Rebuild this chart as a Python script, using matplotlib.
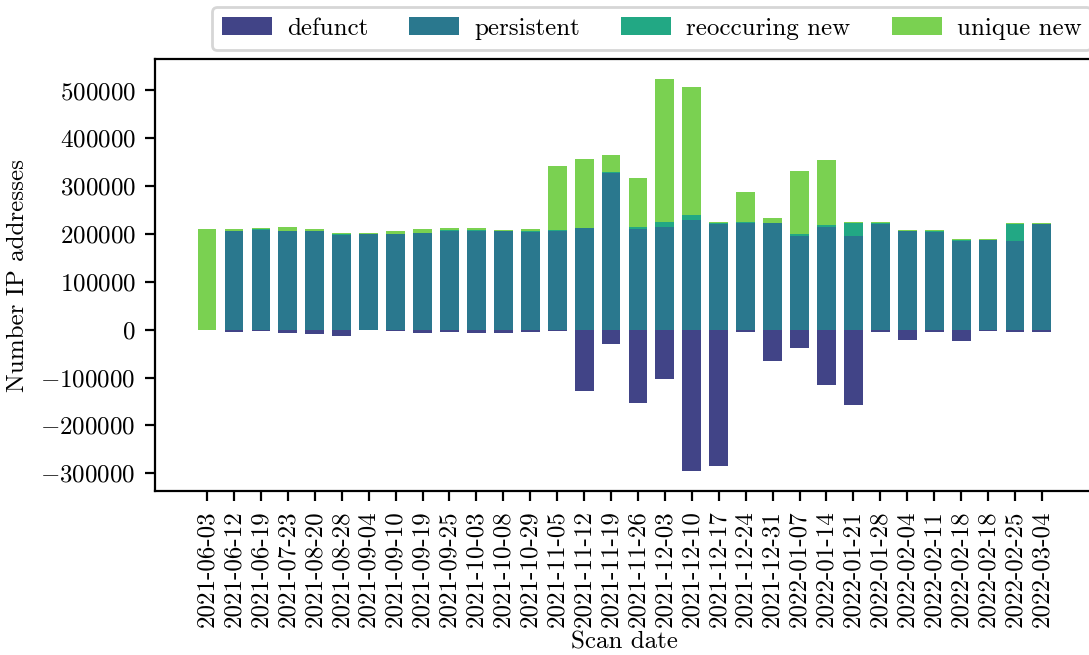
import numpy as np
import matplotlib
matplotlib.use("Agg")
import matplotlib.pyplot as plt
from matplotlib.ticker import MultipleLocator

dates = ["2021-06-03", "2021-06-12", "2021-06-19", "2021-07-23", "2021-08-20",
         "2021-08-28", "2021-09-04", "2021-09-10", "2021-09-19", "2021-09-25",
         "2021-10-03", "2021-10-08", "2021-10-29", "2021-11-05", "2021-11-12",
         "2021-11-19", "2021-11-26", "2021-12-03", "2021-12-10", "2021-12-17",
         "2021-12-24", "2021-12-31", "2022-01-07", "2022-01-14", "2022-01-21",
         "2022-01-28", "2022-02-04", "2022-02-11", "2022-02-18", "2022-02-18",
         "2022-02-25", "2022-03-04"]

defunct = [0, -4200, -2100, -6200, -8300, -12500, -1400, -2100, -6200, -4200,
           -6200, -6200, -4200, -2100, -129000, -29000, -154000, -104000,
           -296000, -285000, -4200, -64500, -37500, -114500, -158000, -4200,
           -20800, -4200, -22900, -2100, -4200, -4200]
persistent = [0, 206000, 208000, 206000, 206000, 198500, 200000, 200000, 202000,
              206500, 206000, 206000, 204500, 206000, 212500, 327000, 210500,
              214500, 229000, 221500, 223000, 223000, 195500, 214500, 195500,
              221500, 206000, 204500, 186000, 187500, 185500, 220500]
reoccuring = [0, 500, 1500, 500, 500, 1500, 500, 500, 500, 1500, 1500, 500,
              1500, 2000, 500, 2000, 4000, 10500, 10500, 1000, 2000, 1000, 4500,
              4000, 27000, 1500, 1000, 1500, 1500, 1000, 35400, 1000]
unique = [210300, 4000, 3000, 8000, 4000, 2000, 1500, 5500, 8000, 4500, 5000,
          2000, 4300, 133500, 143000, 35500, 102000, 299700, 268500, 2500,
          62300, 9200, 131000, 135400, 2400, 2000, 1200, 2200, 2000, 1000,
          1900, 1300]

plt.rcParams['font.family'] = 'serif'
plt.rcParams['font.serif'] = ['cmr10']
plt.rcParams['mathtext.fontset'] = 'cm'
plt.rcParams['axes.formatter.use_mathtext'] = True
plt.rcParams['axes.unicode_minus'] = True
plt.rcParams['font.size'] = 9

colors = plt.cm.viridis(np.linspace(0, 1, 6))[1:5]

fig = plt.figure(figsize=(5.445, 3.275), dpi=200)
ax = fig.add_axes([0.1423, 0.2504, 0.8623, 0.6595])

x = np.arange(len(dates))
w = 0.7
p = np.array(persistent)
r = np.array(reoccuring)
ax.bar(x, defunct, w, color=colors[0], label='defunct')
ax.bar(x, p, w, color=colors[1], label='persistent')
ax.bar(x, r, w, bottom=p, color=colors[2], label='reoccuring new')
ax.bar(x, unique, w, bottom=p + r, color=colors[3], label='unique new')

ax.set_xticks(x)
ax.set_xticklabels(dates, rotation=90)
ax.yaxis.set_major_locator(MultipleLocator(100000))
ax.set_xlabel('Scan date', labelpad=1.5)
ax.set_ylabel('Number IP addresses')
ax.spines['right'].set_visible(False)

ax.legend(ncol=4, loc='lower left', bbox_to_anchor=(0.0607, 1.021),
          borderaxespad=0, handletextpad=0.6, columnspacing=1.65)

fig.savefig('out.png', dpi=200)
